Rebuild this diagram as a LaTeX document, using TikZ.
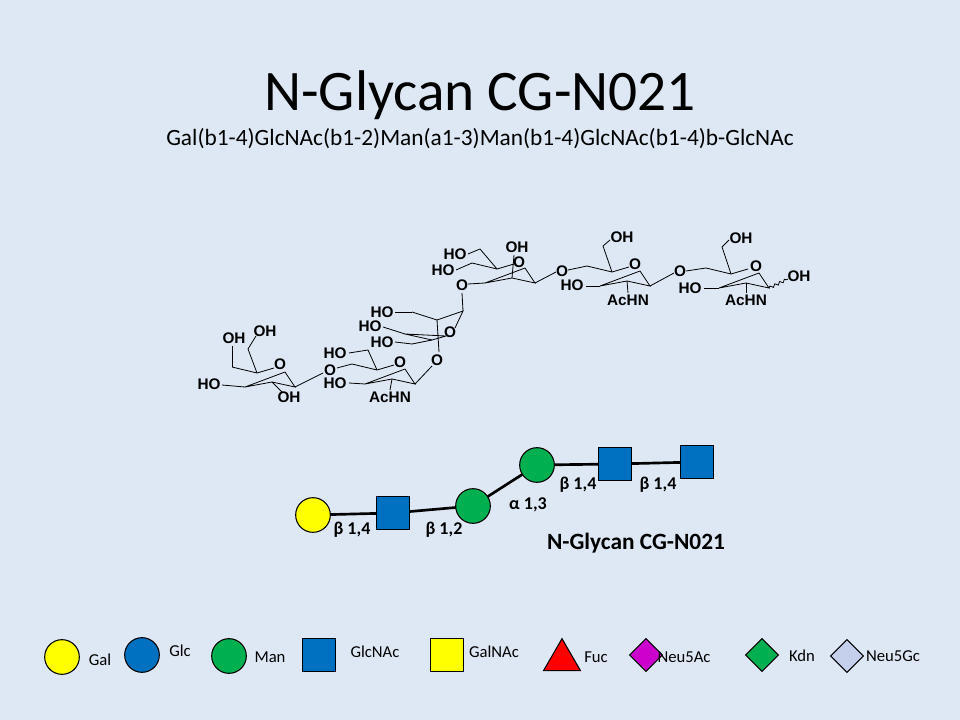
\documentclass[tikz,border=0pt]{standalone}
\usepackage{fontspec}
\setmainfont{Carlito}
\newfontfamily\chemfont{Liberation Sans}
\usetikzlibrary{shapes.geometric,decorations.pathmorphing}
\definecolor{bg}{HTML}{DEE8F4}
\definecolor{galc}{HTML}{FFFF00}
\definecolor{glcc}{HTML}{0070C0}
\definecolor{manc}{HTML}{00B050}
\definecolor{neuac}{HTML}{CC00CC}
\definecolor{neugc}{HTML}{C5D0EC}
\tikzset{
 ch/.style={font=\chemfont\bfseries\fontsize{11.5}{11.5}\selectfont,inner sep=0.5pt},
 bd/.style={line width=0.6pt},
 circ/.style={circle,draw=black,line width=0.8pt,minimum size=26pt,inner sep=0},
 sq/.style={rectangle,draw=black,line width=0.8pt,minimum size=25pt,inner sep=0},
 dia/.style={diamond,draw=black,line width=0.8pt,minimum size=25pt,inner sep=0},
 lk/.style={line width=2pt},
 lab/.style={font=\bfseries\fontsize{13.5}{13.5}\selectfont},
 leg/.style={font=\fontsize{12.5}{12.5}\selectfont}
}
\newcommand{\chair}[2]{%
 \begin{scope}[shift={(#1,#2)}]
 \draw[bd] (0,0)--(25,6)--(42,1); \draw[bd] (53,5)--(63,20)--(40,15)--(13,20)--cycle;
 \end{scope}}
\begin{document}
\begin{tikzpicture}[x=0.75pt,y=-0.75pt]
\fill[bg] (0,0) rectangle (960,720);
\node (t) at (480,95) {\fontsize{43}{43}\selectfont N-Glycan CG-N021};
\node (st) at (480,139) {\fontsize{17.5}{17.5}\selectfont Gal(b1-4)GlcNAc(b1-2)Man(a1-3)Man(b1-4)GlcNAc(b1-4)b-GlcNAc};
% ---- chemical structure ----
% Gal
\chair{232}{367}
\node[ch] (g1) at (234,338) {OH};
\node[ch] (g2) at (265,331) {OH};
\node[ch] (g3) at (280,364) {O};
\node[ch] (g4) at (209,384) {HO};
\node[ch] (g5) at (289,397) {OH};
\draw[bd] (232,367)--(232,346);
\draw[bd] (257,373)--(248,349)--(256,336);
\draw[bd] (245,387)--(222,385);
\draw[bd] (272,382)--(282,392);
\draw[bd] (295,387)--(323,373);
\node[ch] (o1) at (330,370) {O};
% GlcNAc 2
\chair{352}{364}
\draw[bd] (337,368)--(352,364);
\node[ch] (h1) at (335,353) {HO};
\node[ch] (h2) at (400,362) {O};
\node[ch] (h3) at (335,383) {HO};
\node[ch] (h4) at (390,397) {AcHN};
\draw[bd] (377,370)--(368,350)--(349,353);
\draw[bd] (365,384)--(349,383);
\draw[bd] (392,379)--(390,390);
\draw[bd] (415,384)--(432,366);
\node[ch] (o2) at (437,360) {O};
% Man a1-3
\draw[bd] (412,312)--(437,320)--(463,311)--(455,328);
\draw[bd] (446,336)--(432,340)--(405,334)--cycle;
\node[ch] (m1) at (382,312) {HO};
\node[ch] (m2) at (370,326) {HO};
\node[ch] (m3) at (382,342) {HO};
\node[ch] (m4) at (450,332) {O};
\draw[bd] (412,312)--(395,312);
\draw[bd] (405,334)--(383,327);
\draw[bd] (432,340)--(412,344)--(395,342);
\draw[bd] (437,320)--(439,352);
\draw[bd] (463,311)--(462,293);
\node[ch] (o3) at (462,285) {O};
% Man core
\chair{472}{263}
\node[ch] (n1) at (455,254) {HO};
\node[ch] (n2) at (443,270) {HO};
\node[ch] (n3) at (517,247) {OH};
\node[ch] (n4) at (519,262) {O};
\draw[bd] (497,269)--(480,249)--(468,254);
\draw[bd] (472,263)--(456,270);
\draw[bd] (512,278)--(514,255);
\draw[bd] (485,283)--(468,284);
\draw[bd] (535,283)--(556,272);
\node[ch] (o4) at (562,271) {O};
% GlcNAc 3
\chair{587}{266}
\draw[bd] (568,270)--(587,266);
\node[ch] (p1) at (622,237) {OH};
\node[ch] (p2) at (635,264) {O};
\node[ch] (p3) at (572,285) {HO};
\node[ch] (p4) at (628,300) {AcHN};
\draw[bd] (612,272)--(603,246)--(610,240);
\draw[bd] (600,286)--(586,286);
\draw[bd] (627,281)--(628,293);
\draw[bd] (650,286)--(674,273);
\node[ch] (o5) at (680,271) {O};
% GlcNAc reducing
\chair{706}{268}
\draw[bd] (686,271)--(706,268);
\node[ch] (r1) at (741,238) {OH};
\node[ch] (r2) at (756,266) {O};
\node[ch] (r3) at (690,288) {HO};
\node[ch] (r4) at (746,300) {AcHN};
\node[ch] (r5) at (799,276) {OH};
\draw[bd] (731,274)--(722,247)--(729,240);
\draw[bd] (719,288)--(704,288);
\draw[bd] (746,283)--(746,293);
\draw[bd,decorate,decoration={snake,amplitude=1pt,segment length=4pt}] (769,288)--(788,279);
% ---- symbol chain ----
\coordinate (c1) at (313,515);
\coordinate (c2) at (393,513);
\coordinate (c3) at (473,506);
\coordinate (c4) at (537,465);
\coordinate (c5) at (615,464);
\coordinate (c6) at (697,462);
\draw[lk] (c1)--(c2)--(c3)--(c4)--(c5)--(c6);
\node[circ,fill=galc] (s1) at (c1) {};
\node[sq,fill=glcc] (s2) at (c2) {};
\node[circ,fill=manc] (s3) at (c3) {};
\node[circ,fill=manc] (s4) at (c4) {};
\node[sq,fill=glcc] (s5) at (c5) {};
\node[sq,fill=glcc] (s6) at (c6) {};
\node[lab] (l1) at (352,530) {β 1,4};
\node[lab] (l2) at (444,530) {β 1,2};
\node[lab] (l3) at (528,505) {α 1,3};
\node[lab] (l4) at (578,485) {β 1,4};
\node[lab] (l5) at (658,485) {β 1,4};
\node[font=\bfseries\fontsize{17.5}{17.5}\selectfont] (cap) at (636,543) {N-Glycan CG-N021};
% ---- legend ----
\node[circ,fill=galc] (k1) at (62,657) {};
\node[leg] (kt1) at (100,660) {Gal};
\node[circ,fill=glcc] (k2) at (142,655) {};
\node[leg] (kt2) at (180,651) {Glc};
\node[circ,fill=manc] (k3) at (229,656) {};
\node[leg] (kt3) at (270,657) {Man};
\node[sq,fill=glcc] (k4) at (319,655) {};
\node[leg] (kt4) at (375,652) {GlcNAc};
\node[sq,fill=galc] (k5) at (447,655) {};
\node[leg] (kt5) at (494,652) {GalNAc};
\node[regular polygon,regular polygon sides=3,draw=black,line width=0.8pt,fill=red,minimum size=32pt,inner sep=0] (k6) at (562,660) {};
\node[leg] (kt6) at (596,657) {Fuc};
\node[dia,fill=neuac] (k7) at (646,655) {};
\node[leg] (kt7) at (684,657) {Neu5Ac};
\node[dia,fill=manc] (k8) at (762,655) {};
\node[leg] (kt8) at (802,656) {Kdn};
\node[dia,fill=neugc] (k9) at (847,656) {};
\node[leg] (kt9) at (893,656) {Neu5Gc};
\end{tikzpicture}
\end{document}
